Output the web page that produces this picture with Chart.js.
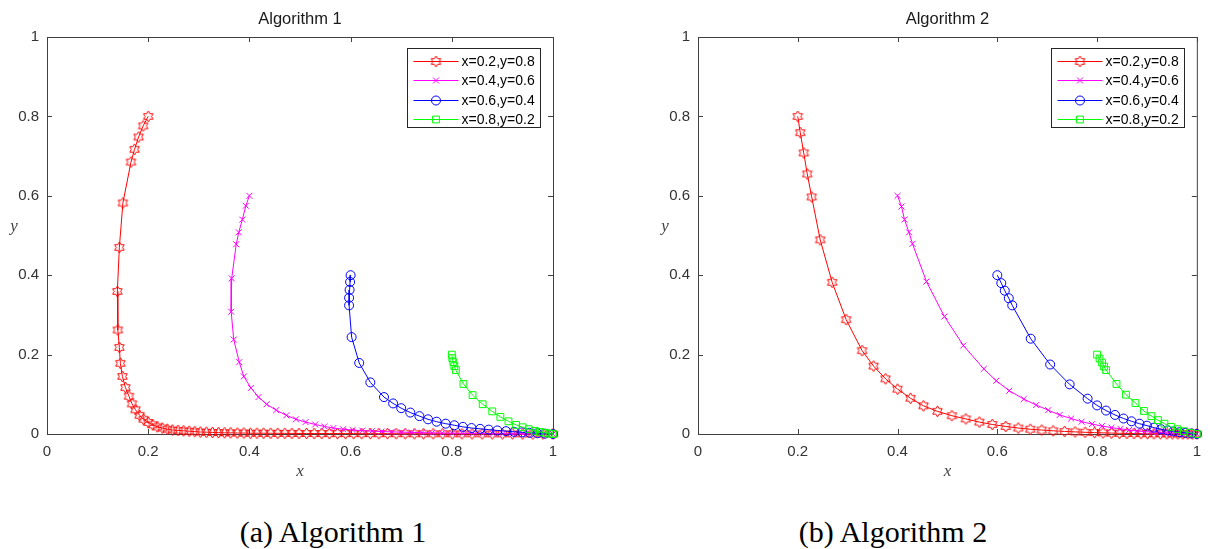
<!DOCTYPE html>
<html lang="en">
<head>
<meta charset="UTF-8">
<title>Algorithm 1 / Algorithm 2</title>
<script src="https://cdn.jsdelivr.net/npm/chart.js"></script>
<style>
    body { margin: 0; background: #fff; width: 1210px; height: 549px; position: relative; overflow: hidden; }
    canvas { position: absolute; top: 0; }
    #c1 { left: 0; }
    #c2 { left: 605px; }
    .caption { position: absolute; top: 517px; width: 300px; text-align: center; font-family: "Liberation Serif", "Times New Roman", serif; font-size: 30px; line-height: 30px; color: #000; }
</style>
</head>
<body>
<canvas id="c1" width="605" height="482"></canvas>
<canvas id="c2" width="605" height="482"></canvas>
<div class="caption" style="left:183px">(a) Algorithm 1</div>
<div class="caption" style="left:743px">(b) Algorithm 2</div>
<script>
// legend / series
const seriesNames = ['x=0.2,y=0.8', 'x=0.4,y=0.6', 'x=0.6,y=0.4', 'x=0.8,y=0.2'];
const seriesColors = ['#ff0000', '#ff00ff', '#0000ff', '#00ff00'];
const tickVals = [0, 0.2, 0.4, 0.6, 0.8, 1];
const tickLabels = ['0', '0.2', '0.4', '0.6', '0.8', '1'];

// Algorithm 1
const alg1RedX = [0.200, 0.190, 0.181, 0.173, 0.166, 0.150, 0.143, 0.139, 0.140, 0.143, 0.145, 0.149, 0.155, 0.162, 0.168, 0.175, 0.183, 0.191, 0.200, 0.209, 0.218, 0.228, 0.238, 0.248, 0.259, 0.270, 0.281, 0.292, 0.303, 0.315, 0.327, 0.339, 0.351, 0.363, 0.376, 0.389, 0.402, 0.415, 0.428, 0.442, 0.456, 0.470, 0.484, 0.498, 0.513, 0.528, 0.543, 0.558, 0.574, 0.590, 0.606, 0.622, 0.639, 0.656, 0.673, 0.690, 0.708, 0.726, 0.744, 0.763, 0.782, 0.801, 0.820, 0.840, 0.860, 0.880, 0.900, 0.920, 0.940, 0.960, 0.980, 1.000];
const alg1RedY = [0.800, 0.776, 0.748, 0.717, 0.685, 0.582, 0.470, 0.359, 0.262, 0.218, 0.178, 0.145, 0.117, 0.095, 0.076, 0.061, 0.047, 0.037, 0.029, 0.023, 0.018, 0.015, 0.012, 0.010, 0.009, 0.008, 0.007, 0.006, 0.005, 0.0045, 0.004, 0.0035, 0.003, 0.003, 0.0025, 0.0025, 0.002, 0.002, 0.002, 0.0018, 0.0017, 0.0016, 0.0015, 0.0014, 0.0013, 0.0012, 0.0012, 0.0011, 0.0011, 0.0010, 0.0010, 0.0009, 0.0009, 0.0008, 0.0008, 0.0007, 0.0007, 0.0006, 0.0006, 0.0005, 0.0005, 0.0004, 0.0004, 0.0003, 0.0003, 0.0003, 0.0002, 0.0002, 0.0001, 0.0001, 0.0001, 0.0000];
const alg1MagX = [0.400, 0.393, 0.386, 0.379, 0.374, 0.365, 0.364, 0.369, 0.380, 0.389, 0.403, 0.418, 0.434, 0.453, 0.473, 0.492, 0.511, 0.530, 0.548, 0.566, 0.585, 0.604, 0.623, 0.642, 0.661, 0.681, 0.701, 0.721, 0.741, 0.761, 0.781, 0.801, 0.821, 0.841, 0.861, 0.881, 0.901, 0.921, 0.941, 0.961, 0.980, 1.000];
const alg1MagY = [0.600, 0.575, 0.540, 0.508, 0.478, 0.392, 0.308, 0.238, 0.181, 0.145, 0.116, 0.093, 0.075, 0.060, 0.047, 0.037, 0.030, 0.024, 0.019, 0.015, 0.012, 0.010, 0.0085, 0.0072, 0.0062, 0.0053, 0.0046, 0.0040, 0.0034, 0.0029, 0.0025, 0.0021, 0.0018, 0.0015, 0.0012, 0.0010, 0.0008, 0.0006, 0.0004, 0.0003, 0.0001, 0.0000];
const alg1BlueX = [0.600, 0.599, 0.598, 0.597, 0.597, 0.602, 0.617, 0.639, 0.666, 0.684, 0.700, 0.718, 0.736, 0.753, 0.770, 0.788, 0.805, 0.822, 0.839, 0.856, 0.873, 0.890, 0.907, 0.923, 0.939, 0.954, 0.969, 0.984, 1.000];
const alg1BlueY = [0.400, 0.383, 0.363, 0.343, 0.324, 0.244, 0.179, 0.130, 0.093, 0.077, 0.065, 0.054, 0.045, 0.037, 0.031, 0.026, 0.022, 0.018, 0.015, 0.013, 0.011, 0.009, 0.0072, 0.0056, 0.0042, 0.0030, 0.0019, 0.0009, 0.0000];
const alg1GreenX = [0.800, 0.801, 0.803, 0.805, 0.808, 0.823, 0.841, 0.861, 0.880, 0.896, 0.912, 0.927, 0.940, 0.952, 0.964, 0.974, 0.985, 0.993, 1.000];
const alg1GreenY = [0.200, 0.191, 0.181, 0.171, 0.161, 0.126, 0.098, 0.075, 0.057, 0.043, 0.032, 0.023, 0.017, 0.012, 0.008, 0.005, 0.003, 0.001, 0.000];

// Algorithm 2
const alg2RedX = [0.200, 0.205, 0.212, 0.219, 0.228, 0.245, 0.269, 0.297, 0.329, 0.352, 0.376, 0.400, 0.426, 0.452, 0.480, 0.509, 0.537, 0.564, 0.590, 0.617, 0.642, 0.666, 0.689, 0.712, 0.735, 0.756, 0.776, 0.795, 0.812, 0.829, 0.845, 0.860, 0.874, 0.888, 0.901, 0.914, 0.927, 0.940, 0.951, 0.962, 0.972, 0.982, 0.991, 1.000];
const alg2RedY = [0.800, 0.759, 0.708, 0.655, 0.597, 0.489, 0.382, 0.288, 0.210, 0.171, 0.139, 0.113, 0.090, 0.071, 0.057, 0.046, 0.038, 0.030, 0.024, 0.019, 0.015, 0.012, 0.010, 0.008, 0.0065, 0.0053, 0.0043, 0.0035, 0.0028, 0.0023, 0.0018, 0.0015, 0.0012, 0.0010, 0.0008, 0.0006, 0.0005, 0.0004, 0.0003, 0.0002, 0.0001, 0.0001, 0.0000, 0.0000];
const alg2MagX = [0.400, 0.408, 0.414, 0.423, 0.430, 0.458, 0.494, 0.532, 0.573, 0.598, 0.624, 0.653, 0.678, 0.702, 0.725, 0.748, 0.769, 0.790, 0.810, 0.829, 0.847, 0.864, 0.880, 0.895, 0.910, 0.924, 0.938, 0.951, 0.964, 0.976, 0.988, 1.000];
const alg2MagY = [0.600, 0.573, 0.540, 0.508, 0.479, 0.384, 0.296, 0.223, 0.164, 0.134, 0.109, 0.088, 0.073, 0.060, 0.048, 0.039, 0.031, 0.025, 0.020, 0.016, 0.013, 0.010, 0.008, 0.006, 0.005, 0.004, 0.003, 0.002, 0.0015, 0.001, 0.0005, 0.000];
const alg2BlueX = [0.600, 0.608, 0.615, 0.623, 0.630, 0.667, 0.706, 0.745, 0.781, 0.800, 0.818, 0.836, 0.853, 0.869, 0.885, 0.900, 0.914, 0.928, 0.941, 0.953, 0.965, 0.977, 0.989, 1.000];
const alg2BlueY = [0.400, 0.380, 0.361, 0.342, 0.324, 0.240, 0.175, 0.125, 0.089, 0.072, 0.059, 0.048, 0.039, 0.032, 0.026, 0.021, 0.016, 0.012, 0.009, 0.0065, 0.0045, 0.0028, 0.0013, 0.000];
const alg2GreenX = [0.800, 0.805, 0.810, 0.814, 0.818, 0.839, 0.858, 0.877, 0.894, 0.909, 0.922, 0.935, 0.948, 0.961, 0.974, 0.987, 1.000];
const alg2GreenY = [0.200, 0.190, 0.180, 0.170, 0.161, 0.126, 0.099, 0.078, 0.058, 0.045, 0.035, 0.026, 0.018, 0.012, 0.007, 0.003, 0.000];

const sansFont = '"Liberation Sans", Arial, sans-serif';
const serifFont = '"Liberation Serif", "Times New Roman", serif';
Chart.defaults.font.family = sansFont;

// hexagram marker (matlab 'h')
function hexagram(color) {
    const c = document.createElement('canvas');
    c.width = 13; c.height = 13;
    const g = c.getContext('2d');
    g.strokeStyle = color;
    g.lineWidth = 1;
    g.beginPath();
    for (let i = 0; i < 12; i++) {
        const r = i % 2 === 0 ? 5.5 : 3.2;
        const a = -Math.PI / 2 + i * Math.PI / 6;
        const px = 6.5 + r * Math.cos(a), py = 6.5 + r * Math.sin(a);
        if (i === 0) g.moveTo(px, py); else g.lineTo(px, py);
    }
    g.closePath();
    g.stroke();
    return c;
}

const markerStyles = [hexagram('#ff0000'), 'crossRot', 'circle', 'rect'];
const markerSizes = [5, 4.2, 4.5, 4.8];

function toPts(xs, ys) {
    return xs.map((x, i) => ({ x: x, y: ys[i] }));
}

// box around the axes + inward ticks + upright y label
const axesBox = {
    id: 'axesBox',
    beforeDatasetsDraw(chart) {
        const { ctx, chartArea: a, scales: { x, y } } = chart;
        ctx.save();
        ctx.strokeStyle = '#404040';
        ctx.lineWidth = 1;
        ctx.strokeRect(a.left + 0.5, a.top + 0.5, a.right - a.left, a.bottom - a.top);
        ctx.beginPath();
        tickVals.forEach(v => {
            const px = Math.round(x.getPixelForValue(v)) + 0.5;
            ctx.moveTo(px, a.bottom); ctx.lineTo(px, a.bottom - 5);
            ctx.moveTo(px, a.top); ctx.lineTo(px, a.top + 5);
            const py = Math.round(y.getPixelForValue(v)) + 0.5;
            ctx.moveTo(a.left, py); ctx.lineTo(a.left + 5, py);
            ctx.moveTo(a.right, py); ctx.lineTo(a.right - 5, py);
        });
        ctx.stroke();
        ctx.fillStyle = '#444';
        ctx.font = 'italic 17px ' + serifFont;
        ctx.textAlign = 'center';
        ctx.textBaseline = 'middle';
        ctx.fillText('y', a.left - 33, (a.top + a.bottom) / 2 - 9);
        ctx.restore();
    }
};

// legend inside the plot, top right, with a frame
const boxLegend = {
    id: 'boxLegend',
    afterDatasetsDraw(chart) {
        const { ctx, chartArea: a } = chart;
        const w = 133, h = 79;
        const bx = Math.round(a.right - 13 - w) + 0.5;
        const by = Math.round(a.top + 11) + 0.5;
        ctx.save();
        ctx.fillStyle = '#fff';
        ctx.fillRect(bx, by, w, h);
        ctx.strokeStyle = '#262626';
        ctx.lineWidth = 1;
        ctx.strokeRect(bx, by, w, h);
        ctx.font = '14px ' + sansFont;
        ctx.textBaseline = 'middle';
        ctx.textAlign = 'left';
        chart.data.datasets.forEach((ds, i) => {
            const ry = Math.round(by + 12.4 + i * 19.3) + 0.5;
            ctx.strokeStyle = ds.borderColor;
            ctx.beginPath();
            ctx.moveTo(bx + 6, ry);
            ctx.lineTo(bx + 51, ry);
            ctx.stroke();
            ctx.fillStyle = 'rgba(0,0,0,0)';
            Chart.helpers.drawPoint(ctx, { pointStyle: ds.pointStyle, radius: ds.pointRadius, rotation: 0, borderWidth: 1 }, bx + 28.5, ry);
            ctx.fillStyle = '#000';
            ctx.fillText(ds.label, bx + 54, ry + 0.5);
        });
        ctx.restore();
    }
};

function makeChart(id, title, xsList, ysList, padLeft, padRight) {
    const datasets = xsList.map((xs, i) => ({
        label: seriesNames[i],
        data: toPts(xs, ysList[i]),
        showLine: true,
        borderColor: seriesColors[i],
        backgroundColor: 'rgba(0,0,0,0)',
        borderWidth: 1,
        pointStyle: markerStyles[i],
        pointRadius: markerSizes[i],
        pointBorderWidth: 1,
        pointBorderColor: seriesColors[i],
        pointBackgroundColor: 'rgba(0,0,0,0)',
        tension: 0,
        clip: false,
        order: 4 - i
    }));
    return new Chart(document.getElementById(id), {
        type: 'scatter',
        data: { datasets: datasets },
        options: {
            responsive: false,
            animation: false,
            devicePixelRatio: 1,
            layout: { padding: { left: padLeft, right: padRight, top: 0, bottom: 0 } },
            plugins: {
                legend: { display: false },
                tooltip: { enabled: false },
                title: {
                    display: true, text: title, fullSize: false, color: '#1a1a1a',
                    font: { family: sansFont, size: 16.5, weight: 'normal' },
                    padding: { top: 10, bottom: 7.2 }
                }
            },
            scales: {
                x: {
                    type: 'linear', min: 0, max: 1,
                    afterBuildTicks: s => { s.ticks = tickVals.map(v => ({ value: v })); },
                    afterFit: s => { s.height = 48; },
                    grid: { display: false, drawTicks: false },
                    border: { display: false },
                    ticks: { padding: 9, color: '#333', maxRotation: 0, font: { size: 15 }, callback: (v, i) => tickLabels[i] },
                    title: { display: true, text: 'x', color: '#444', font: { family: serifFont, size: 17, style: 'italic' }, padding: { top: 0, bottom: 0 } }
                },
                y: {
                    type: 'linear', min: 0, max: 1,
                    afterBuildTicks: s => { s.ticks = tickVals.map(v => ({ value: v })); },
                    afterFit: s => { s.width = 47; },
                    grid: { display: false, drawTicks: false },
                    border: { display: false },
                    ticks: { padding: 8, color: '#333', font: { size: 15 }, callback: (v, i) => tickLabels[i] }
                }
            }
        },
        plugins: [axesBox, boxLegend]
    });
}

makeChart('c1', 'Algorithm 1',
    [alg1RedX, alg1MagX, alg1BlueX, alg1GreenX],
    [alg1RedY, alg1MagY, alg1BlueY, alg1GreenY], 0, 52);
makeChart('c2', 'Algorithm 2',
    [alg2RedX, alg2MagX, alg2BlueX, alg2GreenX],
    [alg2RedY, alg2MagY, alg2BlueY, alg2GreenY], 46, 7);
</script>
</body>
</html>
